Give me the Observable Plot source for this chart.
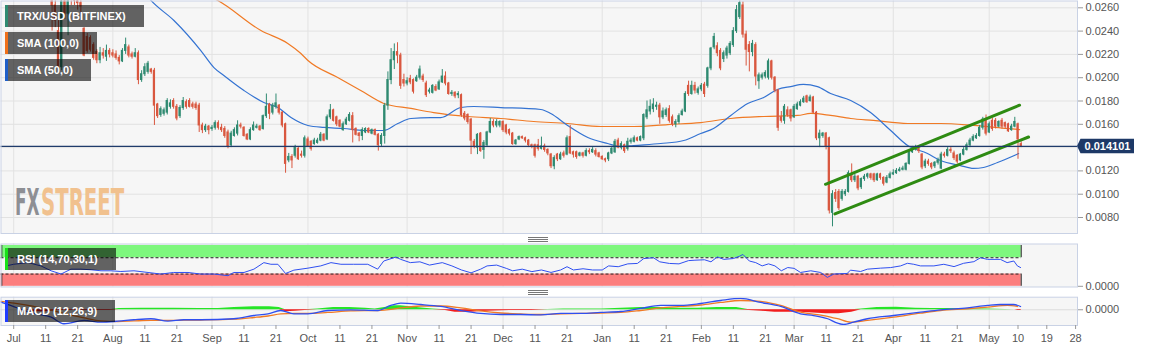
<!DOCTYPE html>
<html><head><meta charset="utf-8">
<script src="https://cdn.jsdelivr.net/npm/d3@7"></script>
<script src="https://cdn.jsdelivr.net/npm/@observablehq/plot@0.6"></script>
<style>
body{margin:0;background:#fff;font-family:"Liberation Sans",Arial,sans-serif;}
#root{position:relative;width:1153px;height:351px;overflow:hidden;background:#fff;}
.panel{position:absolute;left:0;}
.legend{position:absolute;left:5px;background:rgba(0,0,0,0.6);color:#fff;font:bold 11px "Liberation Sans",Arial,sans-serif;height:22px;line-height:22px;padding:0 18px 0 12px;white-space:nowrap;}
.legend i{position:absolute;left:0;top:0;bottom:0;width:3px;}
.sep{position:absolute;left:528px;width:20px;height:1px;background:#777;}
</style></head>
<body><div id="root"></div>
<script>
// ---------------- DATA ----------------
const startDate = "2019-07-01";
const open = [0.0335,0.0326,0.0312,0.0327,0.0323,0.0311,0.0315,0.0312,0.0316,0.0307,0.0288,0.0279,
0.0286,0.0262,0.0240,0.0209,0.0268,0.0255,0.0278,0.0270,0.0266,0.0264,
0.0242,0.0235,0.0234,0.0228,0.0222,0.0215,0.0221,0.0218,0.0223,0.0221,
0.0220,0.0217,0.0214,0.0223,0.0226,0.0220,0.0218,0.0221,0.0198,0.0203,
0.0205,0.0207,0.0206,0.0177,0.0168,0.0169,0.0170,0.0175,0.0180,0.0175,
0.0167,0.0174,0.0179,0.0180,0.0177,0.0177,0.0176,0.0159,0.0155,0.0158,
0.0156,0.0157,0.0161,
0.0157,0.0156,0.0153,0.0142,0.0150,0.0152,0.0159,0.0157,0.0151,0.0147,
0.0155,0.0157,0.0158,0.0156,0.0167,0.0177,0.0170,0.0175,0.0176,0.0170,
0.0160,0.0129,0.0132,0.0133,0.0139,0.0134,0.0133,0.0147,0.0145,0.0143,
0.0144,0.0146,0.0151,0.0147,0.0166,0.0172,0.0166,0.0163,0.0155,0.0160,
0.0163,0.0167,0.0156,0.0152,0.0150,0.0153,0.0156,0.0152,0.0155,0.0151,0.0143,
0.0150,0.0176,0.0198,0.0215,0.0222,0.0219,
0.0198,0.0195,0.0199,0.0198,0.0197,0.0200,0.0201,0.0195,0.0188,0.0187,
0.0192,0.0190,0.0196,0.0201,0.0195,0.0186,0.0187,0.0185,0.0185,0.0169,
0.0168,0.0164,0.0145,0.0140,0.0152,0.0138,0.0142,0.0153,0.0162,0.0159,
0.0159,0.0162,0.0159,0.0155,0.0152,0.0143,0.0147,0.0149,0.0148,0.0146,
0.0142,0.0142,0.0142,0.0139,0.0141,0.0138,0.0134,0.0124,0.0134,0.0130,
0.0135,0.0134,0.0149,0.0136,0.0136,0.0133,0.0135,0.0133,0.0137,0.0136,
0.0137,0.0135,0.0132,0.0130,0.0130,0.0135,0.0136,0.0146,0.0140,0.0142,
0.0139,0.0145,0.0145,0.0148,0.0146,
0.0148,0.0166,0.0171,0.0173,0.0175,0.0176,0.0166,0.0168,0.0173,0.0166,
0.0160,0.0162,0.0168,0.0171,0.0193,0.0186,0.0193,0.0187,0.0190,0.0194,
0.0193,0.0208,0.0226,0.0227,0.0223,0.0216,0.0219,0.0221,0.0228,0.0240,
0.0252,0.0262,0.0237,0.0228,0.0222,0.0228,0.0197,0.0200,0.0201,0.0200,
0.0214,0.0200,0.0189,0.0166,0.0163,0.0172,0.0172,0.0166,0.0173,0.0176,
0.0179,0.0184,0.0180,0.0183,0.0170,0.0148,0.0150,0.0152,0.0148,0.0084,
0.0101,0.0102,0.0096,0.0100,0.0102,0.0117,0.0112,0.0115,0.0106,0.0113,
0.0115,0.0117,0.0117,0.0112,0.0117,0.0114,0.0110,0.0114,0.0117,0.0118,
0.0120,0.0121,0.0121,0.0126,0.0136,0.0139,0.0140,0.0134,0.0124,0.0128,
0.0126,0.0124,0.0127,0.0122,0.0134,0.0133,0.0138,0.0135,0.0133,0.0129,
0.0134,0.0138,0.0142,0.0146,0.0148,0.0150,0.0157,0.0164,0.0153,0.0163,
0.0163,0.0158,0.0163,0.0161,0.0160,0.0155,0.0158,0.0160,0.0143];
const close = [0.0326,0.0312,0.0327,0.0323,0.0311,0.0315,0.0312,0.0316,0.0307,0.0288,0.0279,0.0286,
0.0262,0.0249,0.0209,0.0268,0.0255,0.0278,0.0270,0.0266,0.0264,0.0261,
0.0219,0.0223,0.0224,0.0217,0.0215,0.0221,0.0219,0.0223,0.0220,0.0219,
0.0217,0.0214,0.0223,0.0228,0.0219,0.0218,0.0221,0.0198,0.0203,0.0209,
0.0212,0.0205,0.0176,0.0167,0.0173,0.0172,0.0180,0.0178,0.0175,0.0165,
0.0174,0.0180,0.0175,0.0175,0.0175,0.0174,0.0159,0.0155,0.0158,0.0155,
0.0157,0.0161,0.0157,
0.0155,0.0150,0.0141,0.0152,0.0155,0.0159,0.0158,0.0150,0.0147,0.0155,
0.0159,0.0158,0.0155,0.0167,0.0175,0.0169,0.0176,0.0178,0.0170,0.0159,
0.0126,0.0132,0.0129,0.0140,0.0130,0.0133,0.0148,0.0141,0.0139,0.0146,
0.0146,0.0151,0.0146,0.0166,0.0172,0.0163,0.0160,0.0158,0.0160,0.0164,
0.0168,0.0155,0.0151,0.0150,0.0155,0.0156,0.0153,0.0155,0.0151,0.0142,0.0150,
0.0176,0.0198,0.0215,0.0222,0.0219,0.0193,
0.0195,0.0197,0.0196,0.0188,0.0200,0.0207,0.0198,0.0185,0.0189,0.0193,
0.0189,0.0196,0.0201,0.0195,0.0186,0.0187,0.0184,0.0186,0.0168,0.0165,
0.0162,0.0146,0.0141,0.0151,0.0137,0.0144,0.0153,0.0162,0.0159,0.0162,
0.0162,0.0155,0.0153,0.0152,0.0143,0.0146,0.0149,0.0148,0.0146,0.0142,
0.0141,0.0133,0.0139,0.0141,0.0138,0.0135,0.0124,0.0131,0.0130,0.0134,
0.0133,0.0148,0.0135,0.0134,0.0132,0.0135,0.0133,0.0137,0.0136,0.0138,
0.0134,0.0132,0.0130,0.0129,0.0135,0.0139,0.0145,0.0140,0.0143,0.0137,
0.0145,0.0146,0.0148,0.0146,0.0149,
0.0168,0.0172,0.0175,0.0177,0.0176,0.0166,0.0171,0.0172,0.0163,0.0160,
0.0162,0.0167,0.0171,0.0186,0.0186,0.0193,0.0189,0.0190,0.0193,0.0186,
0.0208,0.0225,0.0235,0.0221,0.0208,0.0221,0.0225,0.0229,0.0240,0.0258,
0.0264,0.0237,0.0224,0.0222,0.0229,0.0201,0.0202,0.0202,0.0204,0.0214,
0.0200,0.0189,0.0157,0.0163,0.0175,0.0168,0.0165,0.0175,0.0177,0.0179,
0.0182,0.0179,0.0183,0.0170,0.0148,0.0152,0.0152,0.0141,0.0086,0.0100,
0.0096,0.0088,0.0102,0.0102,0.0118,0.0112,0.0115,0.0105,0.0113,0.0115,
0.0117,0.0114,0.0112,0.0117,0.0114,0.0109,0.0114,0.0117,0.0118,0.0120,
0.0121,0.0122,0.0126,0.0136,0.0139,0.0140,0.0137,0.0123,0.0128,0.0126,
0.0123,0.0127,0.0129,0.0134,0.0133,0.0138,0.0137,0.0131,0.0128,0.0134,
0.0138,0.0142,0.0146,0.0149,0.0150,0.0157,0.0164,0.0152,0.0160,0.0156,
0.0158,0.0162,0.0158,0.0158,0.0154,0.0158,0.0162,0.0147,0.014101];
const high = [0.0345,0.0332,0.0330,0.0334,0.0326,0.0318,0.0320,0.0319,0.0318,0.0310,0.0292,0.0293,
0.0290,0.0268,0.0249,0.0275,0.0280,0.0285,0.0285,0.0276,0.0272,0.0268,
0.0243,0.0238,0.0236,0.0230,0.0224,0.0226,0.0225,0.0228,0.0225,0.0224,
0.0223,0.0219,0.0225,0.0234,0.0228,0.0222,0.0225,0.0223,0.0206,0.0212,
0.0214,0.0208,0.0208,0.0178,0.0175,0.0174,0.0182,0.0181,0.0182,0.0177,
0.0176,0.0183,0.0181,0.0182,0.0179,0.0179,0.0178,0.0161,0.0160,0.0159,
0.0159,0.0163,0.0163,
0.0160,0.0158,0.0155,0.0154,0.0157,0.0163,0.0161,0.0158,0.0152,0.0157,
0.0162,0.0160,0.0159,0.0168,0.0186,0.0178,0.0178,0.0186,0.0177,0.0171,
0.0161,0.0135,0.0134,0.0142,0.0140,0.0137,0.0150,0.0149,0.0146,0.0148,
0.0148,0.0153,0.0152,0.0168,0.0177,0.0173,0.0167,0.0164,0.0162,0.0166,
0.0170,0.0170,0.0157,0.0153,0.0157,0.0157,0.0157,0.0156,0.0156,0.0152,0.0152,
0.0178,0.0205,0.0225,0.0229,0.0230,0.0221,
0.0203,0.0200,0.0202,0.0199,0.0202,0.0210,0.0203,0.0197,0.0191,0.0194,
0.0194,0.0198,0.0207,0.0205,0.0196,0.0189,0.0188,0.0188,0.0186,0.0171,
0.0169,0.0165,0.0147,0.0152,0.0153,0.0146,0.0154,0.0165,0.0164,0.0164,
0.0163,0.0163,0.0160,0.0156,0.0153,0.0147,0.0150,0.0150,0.0149,0.0147,
0.0143,0.0143,0.0147,0.0149,0.0143,0.0139,0.0135,0.0133,0.0135,0.0136,
0.0137,0.0150,0.0159,0.0137,0.0137,0.0136,0.0136,0.0139,0.0139,0.0140,
0.0139,0.0136,0.0133,0.0131,0.0136,0.0141,0.0147,0.0148,0.0145,0.0143,
0.0148,0.0148,0.0150,0.0149,0.0150,
0.0169,0.0180,0.0181,0.0182,0.0179,0.0178,0.0174,0.0174,0.0176,0.0168,
0.0164,0.0169,0.0173,0.0188,0.0197,0.0197,0.0196,0.0192,0.0195,0.0196,
0.0209,0.0226,0.0238,0.0230,0.0225,0.0223,0.0227,0.0231,0.0243,0.0262,
0.0266,0.0265,0.0240,0.0231,0.0232,0.0230,0.0204,0.0204,0.0206,0.0216,
0.0215,0.0201,0.0190,0.0171,0.0177,0.0175,0.0173,0.0177,0.0179,0.0181,
0.0184,0.0185,0.0185,0.0184,0.0171,0.0155,0.0153,0.0153,0.0149,0.0103,
0.0104,0.0104,0.0104,0.0104,0.0120,0.0126,0.0117,0.0116,0.0114,0.0117,
0.0118,0.0118,0.0118,0.0118,0.0118,0.0115,0.0116,0.0119,0.0121,0.0122,
0.0123,0.0124,0.0127,0.0138,0.0141,0.0142,0.0141,0.0135,0.0130,0.0130,
0.0127,0.0128,0.0131,0.0136,0.0136,0.0140,0.0140,0.0137,0.0134,0.0135,
0.0140,0.0144,0.0148,0.0151,0.0152,0.0159,0.0166,0.0168,0.0162,0.0165,
0.0165,0.0163,0.0165,0.0162,0.0161,0.0160,0.0166,0.0161,0.0145];
const low = [0.0318,0.0305,0.0310,0.0318,0.0305,0.0306,0.0306,0.0308,0.0300,0.0282,0.0272,0.0274,
0.0240,0.0243,0.0205,0.0206,0.0250,0.0236,0.0262,0.0262,0.0258,0.0255,
0.0218,0.0221,0.0222,0.0215,0.0212,0.0212,0.0216,0.0214,0.0217,0.0217,
0.0215,0.0211,0.0213,0.0220,0.0217,0.0216,0.0217,0.0194,0.0196,0.0201,
0.0203,0.0203,0.0159,0.0165,0.0166,0.0167,0.0168,0.0173,0.0173,0.0163,
0.0165,0.0172,0.0173,0.0174,0.0173,0.0172,0.0153,0.0152,0.0153,0.0151,
0.0154,0.0155,0.0155,
0.0153,0.0148,0.0139,0.0140,0.0149,0.0150,0.0156,0.0149,0.0146,0.0146,
0.0154,0.0156,0.0154,0.0155,0.0165,0.0164,0.0168,0.0173,0.0168,0.0157,
0.0118,0.0127,0.0122,0.0131,0.0129,0.0131,0.0131,0.0140,0.0137,0.0142,
0.0143,0.0145,0.0145,0.0146,0.0164,0.0162,0.0158,0.0157,0.0154,0.0159,
0.0162,0.0144,0.0150,0.0145,0.0146,0.0152,0.0152,0.0151,0.0150,0.0137,0.0141,
0.0143,0.0172,0.0194,0.0207,0.0212,0.0190,
0.0192,0.0193,0.0194,0.0186,0.0196,0.0198,0.0196,0.0183,0.0186,0.0186,
0.0188,0.0189,0.0195,0.0193,0.0185,0.0184,0.0182,0.0182,0.0166,0.0163,
0.0160,0.0134,0.0139,0.0134,0.0136,0.0130,0.0141,0.0152,0.0157,0.0157,
0.0157,0.0153,0.0151,0.0150,0.0142,0.0142,0.0146,0.0147,0.0144,0.0140,
0.0139,0.0131,0.0137,0.0138,0.0136,0.0133,0.0122,0.0121,0.0128,0.0129,
0.0131,0.0133,0.0134,0.0131,0.0130,0.0132,0.0131,0.0132,0.0134,0.0135,
0.0132,0.0131,0.0129,0.0127,0.0128,0.0134,0.0135,0.0139,0.0138,0.0135,
0.0137,0.0143,0.0144,0.0145,0.0145,
0.0146,0.0164,0.0168,0.0170,0.0172,0.0160,0.0164,0.0166,0.0161,0.0158,
0.0157,0.0160,0.0167,0.0170,0.0184,0.0185,0.0186,0.0185,0.0188,0.0183,
0.0191,0.0206,0.0224,0.0218,0.0206,0.0213,0.0216,0.0219,0.0226,0.0238,
0.0250,0.0234,0.0210,0.0205,0.0218,0.0193,0.0190,0.0198,0.0199,0.0198,
0.0198,0.0187,0.0154,0.0161,0.0160,0.0166,0.0162,0.0165,0.0172,0.0175,
0.0178,0.0178,0.0179,0.0169,0.0146,0.0140,0.0148,0.0138,0.0083,0.0072,
0.0093,0.0086,0.0094,0.0098,0.0101,0.0110,0.0110,0.0103,0.0104,0.0111,
0.0113,0.0112,0.0110,0.0111,0.0112,0.0107,0.0109,0.0113,0.0116,0.0117,
0.0119,0.0120,0.0120,0.0125,0.0135,0.0137,0.0135,0.0121,0.0122,0.0124,
0.0121,0.0122,0.0125,0.0121,0.0131,0.0132,0.0135,0.0129,0.0126,0.0128,
0.0133,0.0137,0.0140,0.0145,0.0147,0.0149,0.0155,0.0150,0.0152,0.0154,
0.0156,0.0157,0.0156,0.0156,0.0153,0.0154,0.0157,0.0130,0.0140];

// moving averages (day offset from startDate, value)
const sma50Day = [39.8,42.9,50.1,58.5,62.6,65.7,72,78.2,82.6,86.7,92,97,103.2,109.5,115.7,120.1,124.2,130.4,133.5,139.8,143.8,152.3,164.8,167.9,173.2,179.5,185.7,189.8,193.8,202.3,209.5,214.8,218.8,224.2,229.5,234.5,238.8,242.9,246.9,251.3,255.4,261.7,267.9,274.2,279.5,285.7,289.8,296,300.1,303.2,307.6,314.2];
const sma50Value = [0.02766,0.02663,0.02491,0.02233,0.02087,0.02019,0.0189,0.01787,0.01744,0.01658,0.0159,0.01573,0.01564,0.01547,0.01547,0.01607,0.0165,0.01658,0.01658,0.01744,0.01753,0.01744,0.01727,0.01693,0.0159,0.01487,0.01435,0.01409,0.01418,0.01435,0.01461,0.01521,0.01564,0.01676,0.01779,0.0183,0.01899,0.01924,0.01942,0.01924,0.01864,0.01804,0.01701,0.01547,0.01418,0.01349,0.01289,0.01246,0.01221,0.01229,0.01272,0.01349];
const sma100Day = [58.5,63.8,77.3,85.7,89.8,92,101.3,108.5,115.7,124.2,131.3,141.9,152.3,162.6,173.2,183.5,193.8,204.5,214.8,224.2,234.5,245.1,249.2,255.4,261.7,268.8,279.5,289.8,300.1,310.7,314.5];
const sma100Value = [0.02731,0.02663,0.02405,0.02294,0.02208,0.02148,0.02002,0.0189,0.01779,0.01736,0.01701,0.01667,0.0165,0.01624,0.01607,0.01581,0.01581,0.01598,0.01615,0.0165,0.01667,0.01676,0.01693,0.01676,0.0165,0.01633,0.01607,0.01607,0.0159,0.01564,0.01555];

// ascending channel (two trend lines)
const channelName = ["upper","upper","lower","lower"];
const channelDate = ["2020-03-10T19:12Z","2020-05-10T12:00Z","2020-03-13T18:00Z","2020-05-13T07:12Z"];
const channelPrice = [0.010853,0.01764,0.00831,0.01491];

// RSI (14)
const rsiDay = [-2.4,0,4.5,8.5,11.7,14.8,17.9,21,24.2,27.3,30.4,33.5,37.6,42,46,50,54.5,58.5,62.6,67,68.8,72,75.1,78.2,80.4,82.6,85,87.6,92,96,99.2,102.3,106.3,110.7,113.8,115.7,119.5,121,
124,127,130,134,137,140,143,146,148,151,154,156,159,162,165,168,171,173,175,178,181,184,186,189,192,195,197,200,202,205,208,211,213,216,218,220,222,225,227,228,230,232,234,236,238,240,242,244,
246,249.2,252.3,254.4,256.4,260.6,261.6,264.8,266.9,271,274.2,277.3,279.4,281.4,283.5,287.7,290.8,294,297,300.2,302.3,304.4,308.5,310.6,312.7,313.8,314.8];
const rsiValue = [50,54,58,50,38,30,42,42,40.5,38,38,36.3,38,33.9,30,33.9,33.9,30,30,26,33.9,33.9,42,58,54,54,31.4,39.6,44.5,50,58,54,54,54,42,62,71.7,66,
58,60,52,58,50,40,33,42,50,52,44,38,42,36,40,34,40,48,40,43,40,40,50,48,55,56,68,70,60,56,55,63,64,65,60,72,66,68,74,78,62,58,50,55,50,38,46,44,
33.9,38,33.9,21.8,30,31.5,39.6,36.3,42,44.5,45.9,50,56.4,54,50,50,54,48.3,56.4,60.4,70,66,66,58,62,50,46];

// MACD (12,26,9)
const macdDay = [-4,-1,6.3,11.7,15.7,22,27.3,32.6,37.6,42.9,48.2,53.2,58.5,68.8,75.1,79.5,83.5,87.6,92,98.2,105.4,113.8,117.9,121,127.3,133.5,139.8,146,152.3,158.5,164.8,171,177.3,183.5,189.8,196,202.3,208.5,214.8,221,227.3,233.5,239.8,246,250.1,254.5,257.6,259.5,262.6,266.9,275.1,283.5,289.8,298.2,304.5,308.5,312.6,314.8];
const macdValue = [0.00097,0.00055,-0.00047,-0.00094,-0.00178,-0.00136,-0.00158,-0.00145,-0.00127,-0.00114,-0.00145,-0.00127,-0.00127,-0.00114,-0.00073,-0.00051,-0.00009,-0.00051,-0.00051,-0.00009,0,-0.00009,0.00055,0.00084,0.00067,0.00042,-0.00009,-0.00047,-0.0006,-0.0006,-0.00066,-0.00047,-0.00047,-0.00034,-0.00022,0.00017,0.00055,0.00055,0.0008,0.00118,0.00144,0.00093,0.00042,-0.00051,-0.00073,-0.00114,-0.0017,-0.00187,-0.00158,-0.00114,-0.00073,-0.00031,0,0.00025,0.00055,0.00067,0.00067,0.00042];
const signalDay = [-4,0.1,6.3,11.7,15.7,22,27.3,32.6,37.6,42.9,48.2,53.2,58.5,68.8,75.1,79.5,83.5,87.6,92,98.2,105.4,113.8,117.9,121,127.3,133.5,139.8,146,152.3,158.5,164.8,171,177.3,183.5,189.8,196,202.3,208.5,214.8,221,227.3,233.5,239.8,246,253.2,257.6,261.7,266.9,275.1,283.5,289.8,298.2,304.5,310.7,313.8];
const signalValue = [0.00106,0.00084,0.00042,-0.00003,-0.00047,-0.00104,-0.00142,-0.00149,-0.00142,-0.00136,-0.00136,-0.00132,-0.0013,-0.0012,-0.00098,-0.00079,-0.00053,-0.00047,-0.00047,-0.00034,-0.00015,-0.00009,0.00004,0.00023,0.00048,0.00048,0.00023,-0.00015,-0.00041,-0.00053,-0.0006,-0.00053,-0.00047,-0.00041,-0.00034,-0.00009,0.00023,0.00042,0.00061,0.00093,0.00118,0.00106,0.00055,-0.00031,-0.00073,-0.00114,-0.00158,-0.00136,-0.00094,-0.00043,-0.00009,0.00013,0.00033,0.00055,0.00042];
const histDay = [-4,4,6,10,14,20,30,33,40,50,58,64,69,75,80,83,85,88,91,95,100,105,110,113,116,119,121,126,131,135,138,143,148,155,162,167,172,178,184,190,196,202,208,214,220,226,230,234,238,242,246,250,254,258,262,265,270,276,282,287,292,298,304,310,313,314,315];
const histValue = [0,0,-0.00025,-0.00025,-0.0001,-0.0001,-0.0001,0.00015,0.0002,0.0002,0.00015,0.00015,0.0003,0.0004,0.0004,0.0003,-0.00025,-0.0002,-0.0001,0.0001,0.0003,0.0003,0.0002,0.0001,0.0003,0.0005,0.0005,0.0003,0.0001,-0.0001,-0.0003,-0.0003,-0.0002,-0.0001,-0.0001,0.00005,0.0001,0.0001,0.0001,0.0002,0.0003,0.0003,0.0002,0.0002,0.0003,0.0003,-0.0001,-0.0002,-0.0003,-0.0003,-0.0003,-0.0004,-0.0005,-0.0005,-0.0003,0.0001,0.0003,0.00033,0.0002,0.00015,0.00015,0.0001,0.0001,0.00005,0,-0.0001,-0.0001];

// axes
const priceTicks = [0.008,0.010,0.012,0.014,0.016,0.018,0.020,0.022,0.024,0.026];
const priceLabelTicks = [0.008,0.010,0.012,0.016,0.018,0.020,0.022,0.024,0.026]; // 0.0140 sits under the last-price tag
const tickDates = ["2019-07-01","2019-07-11","2019-07-21","2019-08-01","2019-08-11","2019-08-21","2019-09-01","2019-09-11","2019-09-21","2019-10-01","2019-10-11","2019-10-21","2019-11-01","2019-11-11","2019-11-21","2019-12-01","2019-12-11","2019-12-21","2020-01-01","2020-01-11","2020-01-21","2020-02-01","2020-02-11","2020-02-21","2020-03-01","2020-03-11","2020-03-21","2020-04-01","2020-04-11","2020-04-21","2020-05-01","2020-05-10","2020-05-19","2020-05-28"];
const tickLabels = ["Jul","11","21","Aug","11","21","Sep","11","21","Oct","11","21","Nov","11","21","Dec","11","21","Jan","11","21","Feb","11","21","Mar","11","21","Apr","11","21","May","10","19","28"];
const xDomain = ["2019-06-27T00:43Z","2020-05-28T14:24Z"];
const priceDomain = [0.006627,0.026627];
const rsiLevels = [30,70];

// ---------------- BUILD ----------------
const DAY = 864e5;
const t0 = +new Date(startDate);
const dayToDate = d => new Date(t0 + d * DAY);
const candles = close.map((c, i) => ({date: dayToDate(i), open: open[i], high: high[i], low: low[i], close: c}));
const lastCandle = candles[candles.length - 1];
const pairs = (ds, vs) => ds.map((d, i) => ({date: dayToDate(d), value: vs[i]}));
const sma50 = pairs(sma50Day, sma50Value), sma100 = pairs(sma100Day, sma100Value);
const rsi = pairs(rsiDay, rsiValue), macd = pairs(macdDay, macdValue), signal = pairs(signalDay, signalValue), hist = pairs(histDay, histValue);
const channel = channelDate.map((d, i) => ({name: channelName[i], date: new Date(d), value: channelPrice[i]}));
const ticks = tickDates.map(d => new Date(d));
const labelOf = new Map(ticks.map((d, i) => [+d, tickLabels[i]]));
const monthTicks = ticks.filter((d, i) => isNaN(+tickLabels[i]));
const xd = xDomain.map(d => new Date(d));

const UP = "#2f8a71", DOWN = "#d9573f", BG = "#f6f6f6", GRID = "#e2e2e2", BORDER = "#c9d2e5";
const FONT = "'Liberation Sans', Arial, sans-serif";
const common = {width: 1153, marginLeft: 0.5, marginRight: 76, style: {background: "transparent", fontFamily: FONT, fontSize: "11px", overflow: "visible"}};
const xScale = {type: "utc", domain: xd, axis: null, label: null};
const bodyHalf = 0.35 * DAY;
const axisOpts = {anchor: "right", tickFormat: d3.format(".4f"), tickSize: 5, tickPadding: 3, fill: "#555", stroke: "#999", fontSize: 11, label: null};

const root = document.getElementById("root");
function place(node, top) { const d = document.createElement("div"); d.className = "panel"; d.style.top = top + "px"; d.appendChild(node); root.appendChild(d); return d; }

// main price panel
const main = Plot.plot({
  ...common, height: 234, marginTop: 0.5, marginBottom: 1,
  x: xScale,
  y: {domain: priceDomain, range: [233, 0], axis: null, label: null},
  marks: [
    Plot.frame({fill: BG, stroke: null}),
    Plot.gridX(monthTicks, {stroke: GRID, strokeOpacity: 1}),
    Plot.gridY(priceTicks, {stroke: GRID, strokeOpacity: 1}),
    Plot.line(sma100, {x: "date", y: "value", stroke: "#f07a25", strokeWidth: 1.2, curve: "monotone-x", clip: true}),
    Plot.line(sma50, {x: "date", y: "value", stroke: "#3473d2", strokeWidth: 1.2, curve: "monotone-x", clip: true}),
    Plot.ruleX(candles, {x: "date", y1: "low", y2: "high", stroke: d => d.close >= d.open ? UP : DOWN, strokeWidth: 1, clip: true}),
    Plot.rect(candles, {x1: d => new Date(+d.date - bodyHalf), x2: d => new Date(+d.date + bodyHalf), y1: "open", y2: "close", fill: d => d.close >= d.open ? UP : DOWN, insetTop: -0.5, insetBottom: -0.5, clip: true}),
    Plot.line(channel, {x: "date", y: "value", z: "name", stroke: "#2e8b12", strokeWidth: 3, strokeLinecap: "round"}),
    Plot.ruleY([lastCandle.close], {stroke: "#1f3b6b", strokeWidth: 1.3}),
    Plot.frame({stroke: BORDER}),
    Plot.axisY(priceLabelTicks, axisOpts)
  ]
});
place(main, 0);
{
  const svg = d3.select(main);
  const yp = main.scale("y").apply(lastCandle.close);
  const xr = main.scale("x").range[1];
  svg.append("path").attr("d", `M${xr},${yp}L${xr+3.5},${yp-7.3}H${xr+57}V${yp+7.3}H${xr+3.5}Z`).attr("fill", "#1d3967");
  svg.append("text").attr("x", xr + 30.5).attr("y", yp).attr("dy", "0.36em").attr("text-anchor", "middle")
    .attr("fill", "#fff").attr("font-weight", "bold").attr("font-size", 11).attr("font-family", FONT).text(d3.format(".6f")(lastCandle.close));
  // watermark: each word squeezed horizontally to its footprint in the reference
  const wmFont = "'Liberation Sans Narrow','DejaVu Sans Condensed',sans-serif";
  [["FX", "#8d8f94", 15, 24.5], ["STREET", "#f1c18e", 41, 83.3]].forEach(([word, color, x0, w]) => {
    const t = svg.append("text").attr("x", 0).attr("y", 0).attr("text-anchor", "start")
      .attr("font-family", wmFont).attr("font-weight", "bold").attr("font-size", 37).attr("fill", color).text(word);
    const natural = t.node().getComputedTextLength() || w;
    t.attr("transform", `translate(${x0},215) scale(${w / natural},1)`);
  });
}

// RSI panel
const rsiPlot = Plot.plot({
  ...common, height: 46, marginTop: 1.5, marginBottom: 1.5,
  x: xScale,
  y: {domain: [0, 100], range: [43.8, 3], axis: null, label: null},
  marks: [
    Plot.frame({fill: BG, stroke: null}),
    Plot.gridX(monthTicks, {stroke: GRID, strokeOpacity: 1}),
    Plot.rect([{y1: rsiLevels[1], y2: 100}], {x1: xd[0], x2: lastCandle.date, y1: "y1", y2: "y2", fill: "#7ef77e"}),
    Plot.rect([{y1: 0, y2: rsiLevels[0]}], {x1: xd[0], x2: lastCandle.date, y1: "y1", y2: "y2", fill: "#fc7e7e"}),
    Plot.ruleY(rsiLevels, {x1: xd[0], x2: lastCandle.date, stroke: "#222", strokeDasharray: "3,2", strokeWidth: 1}),
    Plot.ruleX([lastCandle.date, lastCandle.date], {y1: [rsiLevels[1], 0], y2: [100, rsiLevels[0]], stroke: "#222"}),
    Plot.ruleX([xd[0], xd[0]], {y1: [rsiLevels[1], 0], y2: [100, rsiLevels[0]], stroke: "#222", dx: 0.8}),
    Plot.line(rsi, {x: "date", y: "value", stroke: "#2f4ff0", strokeWidth: 1, clip: true}),
    Plot.frame({stroke: BORDER}),
    Plot.axisY([0], axisOpts)
  ]
});
place(rsiPlot, 242);

// MACD panel
const macdPlot = Plot.plot({
  ...common, height: 56, marginTop: 1.7, marginBottom: 26,
  x: xScale,
  y: {domain: [-0.0020, 0.0016], range: [30, 1.7], axis: null, label: null},
  marks: [
    Plot.frame({fill: BG, stroke: null}),
    Plot.gridX(monthTicks, {stroke: GRID, strokeOpacity: 1}),
    Plot.ruleY([0], {stroke: "#dcdcdc"}),
    Plot.areaY(hist, {x: "date", y: d => Math.max(0, d.value), fill: "#26e526", clip: true}),
    Plot.areaY(hist, {x: "date", y: d => Math.min(0, d.value), fill: "#f21d1d", clip: true}),
    Plot.line(signal, {x: "date", y: "value", stroke: "#f07a25", strokeWidth: 1.3, curve: "monotone-x", clip: true}),
    Plot.line(macd, {x: "date", y: "value", stroke: "#2f4ff0", strokeWidth: 1.3, curve: "monotone-x", clip: true}),
    Plot.frame({stroke: BORDER}),
    Plot.axisY([0], axisOpts),
    Plot.axisX(ticks, {anchor: "bottom", tickFormat: d => labelOf.get(+d), tickSize: 4, tickPadding: 5, fill: "#555", stroke: "#999", fontSize: 11, label: null})
  ]
});
place(macdPlot, 295);

// legend boxes
function legend(text, color, top) {
  const d = document.createElement("div"); d.className = "legend"; d.style.top = top + "px";
  const s = document.createElement("i"); s.style.background = color; d.appendChild(s);
  d.appendChild(document.createTextNode(text)); root.appendChild(d);
}
legend("TRX/USD (BITFINEX)", "#2f8a71", 5);
legend("SMA (100,0)", "#f0701a", 32);
legend("SMA (50,0)", "#1f5fc8", 59);
legend("RSI (14,70,30,1)", "#18e018", 248);
legend("MACD (12,26,9)", "#1f3cff", 300);

// panel resize handles
[236.5, 238.5, 240.5, 290, 292, 294].forEach(y => { const s = document.createElement("div"); s.className = "sep"; s.style.top = y + "px"; root.appendChild(s); });
</script></body></html>
